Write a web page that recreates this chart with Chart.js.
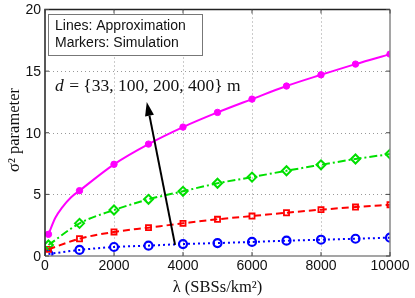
<!DOCTYPE html>
<html><head><meta charset="utf-8">
<script src="https://cdn.jsdelivr.net/npm/chart.js@4.4.1/dist/chart.umd.min.js"></script>
<style>html,body{margin:0;padding:0;background:#fff}#wrap{width:415px;height:298px}</style>
</head><body><div id="wrap"><canvas id="c" width="415" height="298"></canvas></div>
<script>
// simulation markers
const lambdas = [100, 1000, 2000, 3000, 4000, 5000, 6000, 7000, 8000, 9000, 10000];
const d400 = [1.76, 5.3, 7.44, 9.08, 10.46, 11.65, 12.73, 13.79, 14.7, 15.57, 16.38];
const d200 = [0.89, 2.65, 3.73, 4.6, 5.25, 5.9, 6.4, 6.92, 7.4, 7.87, 8.27];
const d100 = [0.54, 1.4, 1.95, 2.3, 2.65, 2.98, 3.24, 3.51, 3.76, 3.97, 4.16];
const d33  = [0.16, 0.49, 0.73, 0.84, 0.97, 1.05, 1.14, 1.24, 1.32, 1.4, 1.49];
// approximation curve for d=400 (extra points read near the origin)
const lambdasLine400 = [100, 300, 500, 750, 1000, 2000, 3000, 4000, 5000, 6000, 7000, 8000, 9000, 10000];
const line400 = [1.76, 3.1, 3.95, 4.75, 5.3, 7.44, 9.08, 10.46, 11.65, 12.73, 13.79, 14.7, 15.57, 16.38];
const xTicks = [0, 2000, 4000, 6000, 8000, 10000];
const yTicks = [0, 5, 10, 15, 20];
const legendLines = ["Lines: Approximation", "Markers: Simulation"];
const annotation = {italic: "d", rest: " = {33, 100, 200, 400} m"};
const arrowFrom = {x: 3770, y: 0.9};
const arrowTo = {x: 2950, y: 12.5};

const pts = (xs, arr) => arr.map((v, i) => ({x: xs[i], y: v}));
const SANS = "'Liberation Sans', Arial, sans-serif";
const SERIF = "'Liberation Serif', 'DejaVu Serif', serif";

function lineDs(xs, data, color, dash) {
  return {data: pts(xs, data), borderColor: color, backgroundColor: color, borderWidth: 2,
    borderDash: dash, pointRadius: 0, cubicInterpolationMode: 'monotone', fill: false};
}
function markDs(data, color, style, r, fill, bw) {
  return {data: pts(lambdas, data), showLine: false, borderColor: color,
    backgroundColor: fill ? color : 'rgba(0,0,0,0)', pointStyle: style, pointRadius: r,
    pointBorderWidth: bw, pointBorderColor: color, pointBackgroundColor: fill ? color : 'rgba(0,0,0,0)'};
}

const decor = {
  id: 'decor',
  beforeDatasetsDraw(chart) {
    const {ctx, chartArea: a, scales: {x, y}} = chart;
    ctx.save();
    ctx.strokeStyle = '#999'; ctx.lineWidth = 1; ctx.setLineDash([1, 3]);
    xTicks.forEach(t => { const px = Math.round(x.getPixelForValue(t)) + 0.5; if (t > 0 && t < 10000) { ctx.beginPath(); ctx.moveTo(px, a.top); ctx.lineTo(px, a.bottom); ctx.stroke(); } });
    yTicks.forEach(t => { const py = Math.round(y.getPixelForValue(t)) + 0.5; if (t > 0 && t < 20) { ctx.beginPath(); ctx.moveTo(a.left, py); ctx.lineTo(a.right, py); ctx.stroke(); } });
    ctx.restore();
  },
  afterDatasetsDraw(chart) {
    const {ctx, chartArea: a, scales: {x, y}} = chart;
    ctx.save();
    ctx.setLineDash([]);
    ctx.lineWidth = 1.5;
    ctx.strokeStyle = '#888';
    ctx.beginPath(); ctx.moveTo(a.left, a.bottom); ctx.lineTo(a.right, a.bottom); ctx.lineTo(a.right, a.top); ctx.stroke();
    ctx.strokeStyle = '#222';
    ctx.beginPath(); ctx.moveTo(a.left, a.bottom); ctx.lineTo(a.left, a.top); ctx.lineTo(a.right, a.top); ctx.stroke();
    ctx.lineWidth = 1; ctx.strokeStyle = '#444';
    xTicks.forEach(t => { const px = x.getPixelForValue(t); ctx.beginPath(); ctx.moveTo(px, a.bottom); ctx.lineTo(px, a.bottom - 4); ctx.moveTo(px, a.top); ctx.lineTo(px, a.top + 4); ctx.stroke(); });
    yTicks.forEach(t => { const py = y.getPixelForValue(t); ctx.beginPath(); ctx.moveTo(a.left, py); ctx.lineTo(a.left + 4, py); ctx.moveTo(a.right, py); ctx.lineTo(a.right - 4, py); ctx.stroke(); });
    ctx.fillStyle = '#111'; ctx.font = '14px ' + SANS;
    ctx.textAlign = 'center'; ctx.textBaseline = 'top';
    xTicks.forEach(t => ctx.fillText(String(t), x.getPixelForValue(t), a.bottom + 3));
    ctx.textAlign = 'right'; ctx.textBaseline = 'middle';
    yTicks.forEach(t => ctx.fillText(String(t), a.left - 4, y.getPixelForValue(t) + 1));
    ctx.font = '16.5px ' + SERIF; ctx.textAlign = 'center'; ctx.textBaseline = 'alphabetic';
    ctx.fillText('λ (SBSs/km²)', (a.left + a.right) / 2, 292);
    ctx.save(); ctx.translate(19, 130); ctx.rotate(-Math.PI / 2);
    ctx.fillText('σ² parameter', 0, 0); ctx.restore();
    ctx.fillStyle = '#fff'; ctx.fillRect(48.5, 14.5, 154, 41);
    ctx.strokeStyle = '#777'; ctx.lineWidth = 1; ctx.strokeRect(48.5, 14.5, 154, 41);
    ctx.fillStyle = '#111'; ctx.font = '14px ' + SANS; ctx.textAlign = 'left';
    ctx.fillText(legendLines[0], 55, 30);
    ctx.fillText(legendLines[1], 55, 47);
    const x0 = x.getPixelForValue(arrowFrom.x), y0 = y.getPixelForValue(arrowFrom.y);
    const x1 = x.getPixelForValue(arrowTo.x), y1 = y.getPixelForValue(arrowTo.y);
    const ang = Math.atan2(y1 - y0, x1 - x0), L = 14, W = 4.5;
    const bx = x1 - L * Math.cos(ang), by = y1 - L * Math.sin(ang);
    ctx.strokeStyle = '#000'; ctx.lineWidth = 2;
    ctx.beginPath(); ctx.moveTo(x0, y0); ctx.lineTo(bx, by); ctx.stroke();
    ctx.fillStyle = '#000'; ctx.beginPath(); ctx.moveTo(x1, y1);
    ctx.lineTo(bx + W * Math.sin(ang), by - W * Math.cos(ang));
    ctx.lineTo(bx - W * Math.sin(ang), by + W * Math.cos(ang)); ctx.closePath(); ctx.fill();
    ctx.fillStyle = '#111';
    ctx.font = 'italic 17.5px ' + SERIF; ctx.fillText(annotation.italic, 55, 91);
    const w = ctx.measureText(annotation.italic).width;
    ctx.font = '17.5px ' + SERIF; ctx.fillText(annotation.rest, 55 + w + 1, 91);
    ctx.restore();
  }
};

new Chart(document.getElementById('c'), {
  type: 'line',
  data: {datasets: [
    lineDs(lambdasLine400, line400, '#ff00ff', []),
    lineDs(lambdas, d200, '#00e000', [8, 3, 2, 3]),
    lineDs(lambdas, d100, '#ff0000', [7, 4]),
    lineDs(lambdas, d33, '#0000ff', [2, 3]),
    markDs(d400, '#ff00ff', 'circle', 3.2, true, 1),
    markDs(d200, '#00e000', 'rectRot', 4.5, false, 2),
    markDs(d100, '#ff0000', 'rect', 3.6, false, 1.8),
    markDs(d33, '#0000ff', 'circle', 4, false, 2.2)
  ]},
  options: {
    responsive: false, animation: false, devicePixelRatio: 1,
    layout: {padding: {top: 9.5, right: 25, left: 0, bottom: 0}},
    plugins: {legend: {display: false}, tooltip: {enabled: false}},
    scales: {
      x: {type: 'linear', min: 0, max: 10000, grid: {display: false}, border: {display: false},
          ticks: {display: false}, afterFit(s) { s.height = 42; }},
      y: {type: 'linear', min: 0, max: 20, grid: {display: false}, border: {display: false},
          ticks: {display: false}, afterFit(s) { s.width = 45; }}
    }
  },
  plugins: [decor]
});
</script></body></html>
